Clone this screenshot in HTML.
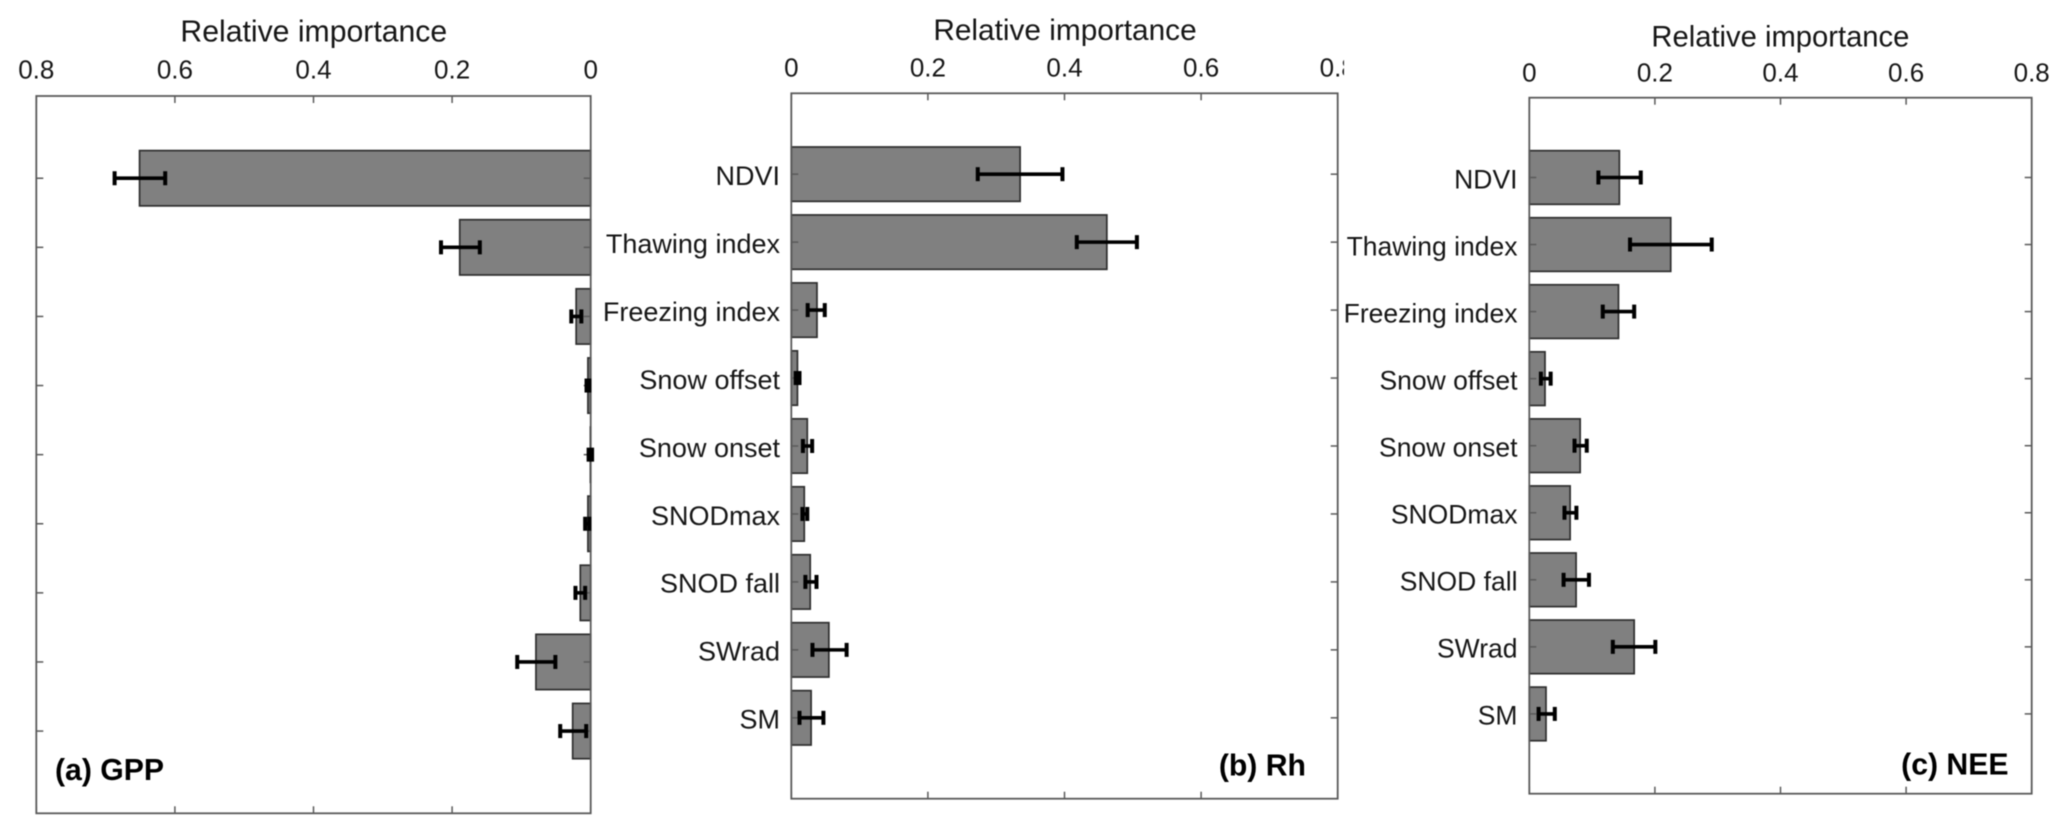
<!DOCTYPE html>
<html lang="en">
<head>
<meta charset="utf-8">
<title>Relative importance of drivers for GPP, Rh and NEE</title>
<style>
html,body{margin:0;padding:0;background:#fff;width:2067px;height:833px;overflow:hidden}
svg{display:block;font-family:"Liberation Sans",Arial,sans-serif;filter:blur(0.45px)}
</style>
</head>
<body>
<svg id="chart" xmlns="http://www.w3.org/2000/svg" width="2067" height="833" viewBox="0 0 2067 833"></svg>
<script>
const categories = ["NDVI","Thawing index","Freezing index","Snow offset","Snow onset","SNODmax","SNOD fall","SWrad","SM"];
const xTickValues = [0,0.2,0.4,0.6,0.8];
const xTickLabels = ["0","0.2","0.4","0.6","0.8"];
const xAxisTitle = "Relative importance";

const gppValues = [0.651,0.189,0.021,0.004,0.0005,0.004,0.015,0.079,0.026];
const gppLow    = [0.614,0.160,0.0135,0.002,-0.002,0.002,0.008,0.051,0.0065];
const gppHigh   = [0.687,0.216,0.028,0.006,0.003,0.008,0.022,0.106,0.044];

const rhValues = [0.335,0.462,0.0376,0.009,0.0234,0.019,0.0277,0.055,0.029];
const rhLow    = [0.273,0.418,0.024,0.0064,0.017,0.0163,0.0206,0.031,0.012];
const rhHigh   = [0.397,0.506,0.049,0.012,0.0305,0.0234,0.0369,0.081,0.047];

const neeValues = [0.1434,0.2252,0.142,0.025,0.081,0.065,0.0745,0.167,0.0266];
const neeLow    = [0.110,0.1604,0.117,0.0185,0.072,0.056,0.0546,0.133,0.0148];
const neeHigh   = [0.1775,0.2905,0.167,0.034,0.0915,0.075,0.095,0.2007,0.0406];

const NS = "http://www.w3.org/2000/svg";
const svg = document.getElementById("chart");
const AXIS_COLOR = "#5a5a5a";
const TEXT_COLOR = "#161616";
const X_MAX = 0.8;
const Y_PAD = 1.19;

function make(tag, attrs, parent, text) {
  const el = document.createElementNS(NS, tag);
  for (const k in attrs) el.setAttribute(k, attrs[k]);
  if (text !== undefined) el.textContent = text;
  parent.appendChild(el);
  return el;
}

function drawPanel(p) {
  const g = make("g", {}, svg);
  
  

  const xScale = v => p.reversed
    ? p.right - (v / X_MAX) * (p.right - p.left)
    : p.left + (v / X_MAX) * (p.right - p.left);
  const step = (p.bottom - p.top) / (categories.length - 1 + 2 * Y_PAD);
  const yScale = i => p.top + (i + Y_PAD) * step;
  const barHeight = step * 0.8;
  const zeroX = xScale(0);

  const frame = make("rect", {x:p.left, y:p.top, width:p.right-p.left, height:p.bottom-p.top, fill:"#fff", stroke:"none"}, g);
  
  

  // bars
  p.values.forEach((v, i) => {
    const a = xScale(v);
    const bar = make("rect", {
      x: Math.min(a, zeroX), y: yScale(i) - barHeight / 2,
      width: Math.abs(a - zeroX), height: barHeight,
      fill: "#808080", stroke: "#2e2e2e", "stroke-width": 1.7
    }, g);
    
    
  });

  // y ticks (both sides)
  categories.forEach((c, i) => {
    const y = yScale(i);
    const t1 = make("line", {x1:p.left, x2:p.left+7, y1:y, y2:y, stroke:AXIS_COLOR, "stroke-width":1.5}, g);
    
    
    const t2 = make("line", {x1:p.right-7, x2:p.right, y1:y, y2:y, stroke:AXIS_COLOR, "stroke-width":1.5}, g);
    
    
  });

  // x ticks (both sides)
  xTickValues.forEach(v => {
    const x = xScale(v);
    const t1 = make("line", {x1:x, x2:x, y1:p.top, y2:p.top+7, stroke:AXIS_COLOR, "stroke-width":1.5}, g);
    
    
    const t2 = make("line", {x1:x, x2:x, y1:p.bottom-7, y2:p.bottom, stroke:AXIS_COLOR, "stroke-width":1.5}, g);
    
    
  });

  const border = make("rect", {x:p.left, y:p.top, width:p.right-p.left, height:p.bottom-p.top, fill:"none", stroke:AXIS_COLOR, "stroke-width":1.8}, g);
  
  

  // error bars
  p.values.forEach((v, i) => {
    const y = yScale(i);
    const eb = make("g", {stroke:"#000", fill:"none"}, g);
    
    
    const lo = xScale(p.low[i]), hi = xScale(p.high[i]);
    make("line", {x1:lo, x2:hi, y1:y, y2:y, "stroke-width":3.6}, eb);
    make("line", {x1:lo, x2:lo, y1:y-7, y2:y+7, "stroke-width":4}, eb);
    make("line", {x1:hi, x2:hi, y1:y-7, y2:y+7, "stroke-width":4}, eb);
  });

  // x tick labels (clipped on the panel-b edge as in the source figure)
  const labelGroup = make("g", p.clipId ? {"clip-path":"url(#" + p.clipId + ")"} : {}, g);
  
  
  xTickValues.forEach((v, i) => {
    const t = make("text", {x:xScale(v), y:p.tickBase, "text-anchor":"middle", "font-size":26, fill:TEXT_COLOR}, labelGroup, xTickLabels[i]);
    
    
  });

  // axis title
  const title = make("text", {x:p.titleX, y:p.titleBase, "text-anchor":"middle", "font-size":p.titleSize, fill:TEXT_COLOR}, g, xAxisTitle);
  
  

  // category labels
  if (p.labelRight) {
    categories.forEach((c, i) => {
      const t = make("text", {x:p.labelRight, y:yScale(i)+10.8, "text-anchor":"end", "font-size":p.labelSize, fill:TEXT_COLOR}, g, c);
      
      
    });
  }

  // panel tag
  const tag = make("text", {x:p.tagX, y:p.tagBase, "text-anchor":p.tagAnchor, "font-size":30.2, "font-weight":"bold", fill:"#000"}, g, p.tag);
  
  
}

const defs = make("defs", {}, svg);
const clip = make("clipPath", {id:"clip-b"}, defs);
make("rect", {x:700, y:40, width:644, height:60}, clip);

drawPanel({key:"gpp", tag:"(a) GPP", reversed:true, values:gppValues, low:gppLow, high:gppHigh,
  left:36.3, right:590.7, top:96, bottom:813.3, tickBase:78.7, titleX:313.8, titleBase:41.5, titleSize:30.2,
  tagX:55, tagBase:780, tagAnchor:"start"});
drawPanel({key:"rh", tag:"(b) Rh", reversed:false, values:rhValues, low:rhLow, high:rhHigh, clipId:"clip-b",
  left:791.3, right:1337.7, top:93.3, bottom:798.7, tickBase:76.7, titleX:1065, titleBase:39.8, titleSize:29.8,
  labelRight:780, labelSize:27, tagX:1306, tagBase:775.6, tagAnchor:"end"});
drawPanel({key:"nee", tag:"(c) NEE", reversed:false, values:neeValues, low:neeLow, high:neeHigh,
  left:1529.3, right:2031.7, top:97.7, bottom:793.7, tickBase:81.7, titleX:1780.4, titleBase:46.7, titleSize:29.2,
  labelRight:1517.5, labelSize:26.5, tagX:2008.5, tagBase:774.3, tagAnchor:"end"});
</script>
</body>
</html>
